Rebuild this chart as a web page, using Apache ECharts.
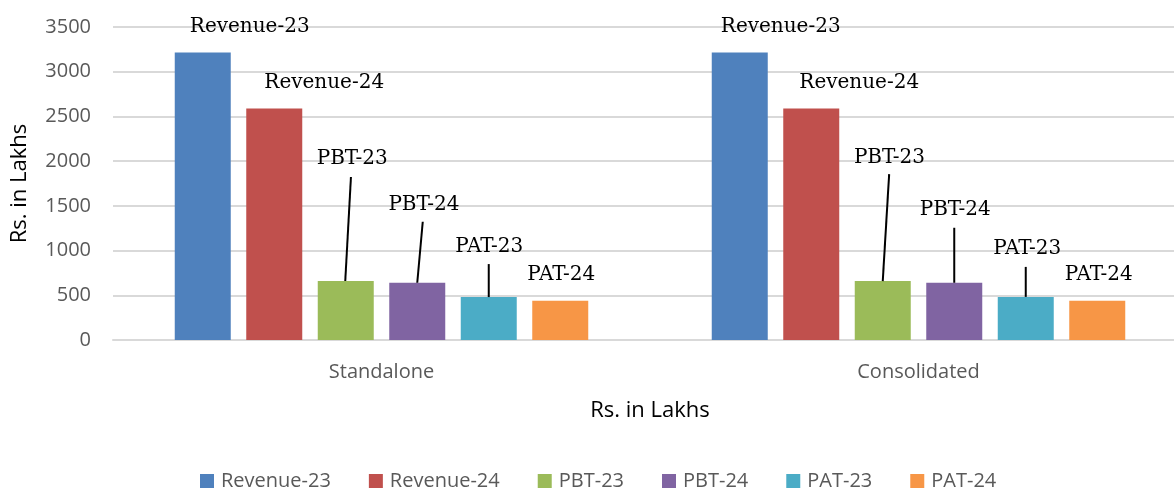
<!DOCTYPE html>
<html>
<head>
<meta charset="utf-8">
<script src="https://cdn.jsdelivr.net/npm/echarts@6/dist/echarts.min.js"></script>
<style>html,body{margin:0;padding:0;background:#fff;overflow:hidden;width:1174px;height:488px}#c{width:1187px;height:488px}</style>
</head>
<body>
<div id="c"></div>
<script>
const categories = ['Standalone', 'Consolidated'];
const seriesNames = ['Revenue-23', 'Revenue-24', 'PBT-23', 'PBT-24', 'PAT-23', 'PAT-24'];
const revenue23 = [3214, 3214];
const revenue24 = [2588, 2588];
const pbt23 = [659, 659];
const pbt24 = [640, 640];
const pat23 = [480, 482];
const pat24 = [439, 439];
const yTicks = [0, 500, 1000, 1500, 2000, 2500, 3000, 3500];

const seriesValues = [revenue23, revenue24, pbt23, pbt24, pat23, pat24];
const colors = ['#4f81bd', '#c0504d', '#9bbb59', '#8064a2', '#4bacc6', '#f79646'];

// label placement styling: [dx, dy] per series per category
const labelPlacement = [
  [[47, -16], [41, -16]],
  [[50, -16], [48, -16]],
  [[6.5, -112], [6.7, -113.5]],
  [[6.7, -68], [1, -63]],
  [[0.5, -40], [1.5, -38]],
  [[1, -16], [1.5, -16]]
];
// leader line styling: [seriesIndex, categoryIndex, bottomDx, topDx, topDy]
const leaderLines = [
  [2, 0, -0.5, 5.2, -104],
  [3, 0, 0, 5.5, -61],
  [4, 0, 0, 0, -33],
  [2, 1, 0, 6.4, -107],
  [3, 1, 0, 0, -55],
  [4, 1, 0, 0, -30]
];

const BAR_W = 56;
const BAR_GAP = 15.5;
const labelFont = 'DejaVu Serif';
const uiFont = 'Open Sans';

const series = seriesNames.map((name, si) => ({
  name: name,
  type: 'bar',
  barWidth: BAR_W,
  barGap: (BAR_GAP / BAR_W * 100) + '%',
  itemStyle: { color: colors[si] },
  data: seriesValues[si].map((v, ci) => {
    const p = labelPlacement[si][ci];
    return {
      value: v,
      label: {
        show: true,
        position: 'top',
        distance: 0,
        offset: [p[0], p[1]],
        formatter: name,
        fontFamily: labelFont,
        fontSize: 20,
        lineHeight: 20,
        color: '#000'
      }
    };
  })
}));

series.push({
  type: 'custom',
  name: 'leaders',
  silent: true,
  z: 5,
  data: leaderLines.map(l => [l[1], seriesValues[l[0]][l[1]], l[0], l[2], l[3], l[4]]),
  renderItem: function (params, api) {
    const ci = api.value(0), v = api.value(1), si = api.value(2);
    const pt = api.coord([ci, v]);
    const bx = pt[0] + (si - (seriesNames.length - 1) / 2) * (BAR_W + BAR_GAP);
    return {
      type: 'line',
      shape: { x1: bx + api.value(3), y1: pt[1], x2: bx + api.value(4), y2: pt[1] + api.value(5) },
      style: { stroke: '#000', lineWidth: 2 }
    };
  },
  encode: { x: 0, y: 1 }
});

const chart = echarts.init(document.getElementById('c'), null, { renderer: 'canvas' });
chart.setOption({
  animation: false,
  color: colors,
  grid: { left: 113, right: 0, top: 27, bottom: 148, containLabel: false },
  legend: {
    data: seriesNames,
    top: 471,
    left: 200,
    padding: 0,
    itemWidth: 14,
    itemHeight: 14,
    itemGap: 38,
    icon: 'rect',
    textStyle: { fontFamily: uiFont, fontSize: 20, color: '#595959', padding: [0, 0, 0, 2] }
  },
  xAxis: {
    type: 'category',
    data: categories,
    name: 'Rs. in Lakhs',
    nameLocation: 'middle',
    nameGap: 60,
    nameTextStyle: { fontFamily: uiFont, fontSize: 22, color: '#000' },
    axisLine: { lineStyle: { color: '#d9d9d9', width: 2 } },
    axisTick: { show: false },
    axisLabel: { fontFamily: uiFont, fontSize: 20, color: '#595959', margin: 22 }
  },
  yAxis: {
    type: 'value',
    min: yTicks[0],
    max: yTicks[yTicks.length - 1],
    interval: yTicks[1] - yTicks[0],
    name: 'Rs. in Lakhs',
    nameLocation: 'middle',
    nameGap: 82,
    nameRotate: 90,
    nameTextStyle: { fontFamily: uiFont, fontSize: 22, color: '#000' },
    axisLine: { show: false },
    axisTick: { show: false },
    splitLine: { lineStyle: { color: '#d9d9d9', width: 2 } },
    axisLabel: { fontFamily: uiFont, fontSize: 20, color: '#595959', margin: 22, formatter: v => String(v) }
  },
  series: series
});
</script>
</body>
</html>
